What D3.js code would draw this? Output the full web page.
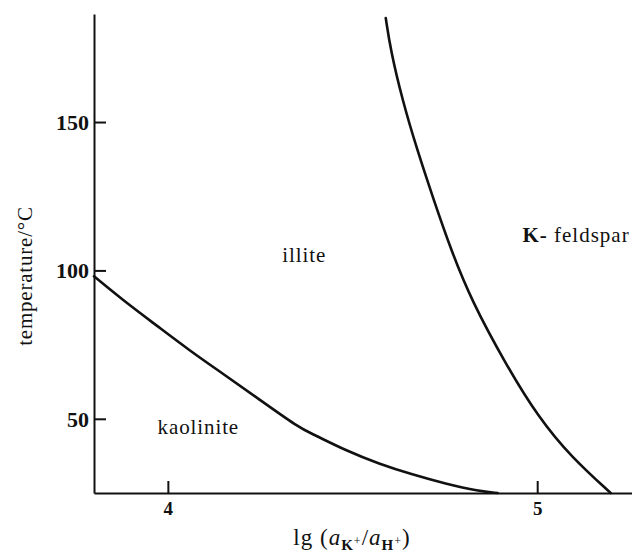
<!DOCTYPE html>
<html>
<head>
<meta charset="utf-8">
<script src="https://cdn.jsdelivr.net/npm/d3@7"></script>
<style>
  html, body { margin: 0; padding: 0; background: #fff; }
  svg { display: block; }
</style>
</head>
<body>
<svg id="chart" width="632" height="554"></svg>
<script>
// ---- data ----
const xTicks = [4, 5];
const yTicks = [50, 100, 150];
// kaolinite / illite boundary
const kaoIlliteLg = [3.8, 3.879, 3.969, 4.059, 4.149, 4.239, 4.356, 4.392, 4.482, 4.572, 4.662, 4.752, 4.842, 4.893];
const kaoIlliteT  = [98, 89.9, 81.5, 73.0, 65.2, 57.3, 46.9, 44.9, 39.3, 34.8, 31.2, 28.1, 25.6, 25];
// illite / K-feldspar boundary
const illiteKfsLg = [4.590, 4.603, 4.635, 4.675, 4.720, 4.767, 4.822, 4.914, 5.003, 5.093, 5.199];
const illiteKfsT  = [185, 174.3, 157.4, 140.6, 123.7, 106.8, 89.9, 68.6, 50.5, 37.0, 25];
const fieldNames = ["illite", "kaolinite"];
const fieldLg = [4.31, 3.972];
const fieldT  = [103, 45];

const SERIF = '"Liberation Serif", "Times New Roman", serif';

// ---- scales ----
const svg = d3.select("#chart");
const x = d3.scaleLinear().domain([3.8, 5.2567]).range([94, 632]);
const y = d3.scaleLinear().domain([25, 186.4]).range([493, 14]);

// ---- axes ----
const xAxis = d3.axisBottom(x).tickValues(xTicks).tickFormat(d3.format("d"))
  .tickSizeInner(-12).tickSizeOuter(0).tickPadding(7);
const yAxis = d3.axisLeft(y).tickValues(yTicks).tickFormat(d3.format("d"))
  .tickSizeInner(-12).tickSizeOuter(0).tickPadding(5);

const gx = svg.append("g").attr("transform", `translate(0,${y(25)})`).call(xAxis);
const gy = svg.append("g").attr("transform", `translate(${x(3.8)},0)`).call(yAxis);

[gx, gy].forEach(g => {
  g.attr("font-family", SERIF);
  g.select(".domain").attr("stroke", "#111").attr("stroke-width", 2);
  g.selectAll(".tick line").attr("stroke", "#111").attr("stroke-width", 2);
  g.selectAll(".tick text")
    .attr("font-family", SERIF)
    .attr("font-weight", "bold")
    .attr("fill", "#111");
});
gx.selectAll(".tick text").attr("font-size", 19).attr("dy", "0.78em");
gy.selectAll(".tick text").attr("font-size", 22).attr("dy", "0.34em");

// ---- curves ----
const line = d3.line().x(d => x(d[0])).y(d => y(d[1])).curve(d3.curveBasis);
const curves = [
  d3.zip(kaoIlliteLg, kaoIlliteT),
  d3.zip(illiteKfsLg, illiteKfsT)
];
svg.append("g").selectAll("path").data(curves).join("path")
  .attr("d", line)
  .attr("fill", "none")
  .attr("stroke", "#111")
  .attr("stroke-width", 2.6)
  .attr("stroke-linecap", "round");

// ---- field labels ----
svg.append("g").selectAll("text").data(fieldNames).join("text")
  .attr("x", (d, i) => x(fieldLg[i]))
  .attr("y", (d, i) => y(fieldT[i]))
  .attr("font-family", SERIF)
  .attr("font-size", 21)
  .style("letter-spacing", "0.9px")
  .attr("fill", "#111")
  .text(d => d);

const kf = svg.append("text")
  .attr("x", x(4.96)).attr("y", y(109.5))
  .attr("font-family", SERIF)
  .attr("font-size", 21)
  .style("letter-spacing", "1px")
  .attr("fill", "#111");
kf.append("tspan").attr("font-weight", "bold").text("K-");
kf.append("tspan").text("\u00a0feldspar");

// ---- axis titles ----
svg.append("text")
  .attr("transform", `translate(32,276) rotate(-90)`)
  .attr("text-anchor", "middle")
  .attr("font-family", SERIF)
  .attr("font-size", 21)
  .style("letter-spacing", "0.8px")
  .attr("fill", "#111")
  .text("temperature/\u00b0C");

const xt = svg.append("text")
  .attr("x", 352).attr("y", 545)
  .attr("text-anchor", "middle")
  .attr("font-family", SERIF)
  .attr("font-size", 23)
  .style("letter-spacing", "1px")
  .attr("fill", "#111");
xt.append("tspan").text("lg (");
xt.append("tspan").attr("font-style", "italic").text("a");
xt.append("tspan").attr("dy", 5).attr("font-size", 15).attr("font-weight", "bold").text("K");
xt.append("tspan").attr("dy", -5).attr("font-size", 12).text("+");
xt.append("tspan").attr("dy", 0).text("/");
xt.append("tspan").attr("font-style", "italic").text("a");
xt.append("tspan").attr("dy", 5).attr("font-size", 15).attr("font-weight", "bold").text("H");
xt.append("tspan").attr("dy", -5).attr("font-size", 12).text("+");
xt.append("tspan").attr("dy", 0).text(")");
</script>
</body>
</html>
